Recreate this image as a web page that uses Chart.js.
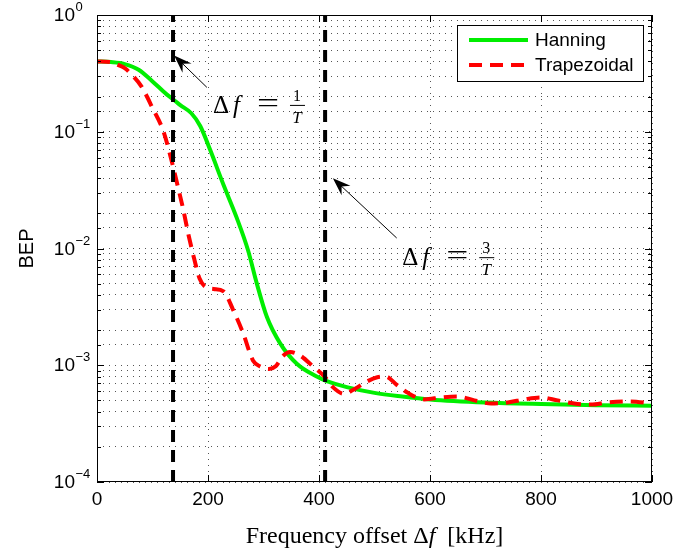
<!DOCTYPE html>
<html>
<head>
<meta charset="utf-8">
<script src="https://cdn.jsdelivr.net/npm/chart.js@4.4.1/dist/chart.umd.min.js"></script>
<style>
  html, body { margin: 0; padding: 0; background: #fff; }
</style>
</head>
<body>
<canvas id="chart" width="693" height="556"></canvas>
<script>
// frequency offset in kHz and bit error probability
const hanningFreq = [0, 25, 50, 75, 100, 125, 137, 150, 170, 186, 204, 227, 252, 272, 288, 306, 330, 360, 396, 414, 450, 500, 550, 600, 700, 800, 900, 1000]
const hanningBep = [0.40, 0.395, 0.38, 0.34, 0.27, 0.21, 0.19, 0.169, 0.144, 0.112, 0.0697, 0.036, 0.0182, 0.0097, 0.005, 0.0026, 0.00154, 0.00103, 0.0008, 0.00073, 0.00065, 0.00058, 0.00054, 0.00051, 0.00048, 0.000465, 0.000455, 0.00045]

const trapFreq = [0, 25, 40, 50, 65, 80, 100, 120, 135, 145, 155, 165, 175, 185, 195, 210, 228, 245, 263, 281, 295, 310, 322, 335, 348, 365, 390, 410, 425, 445, 465, 485, 505, 520, 540, 560, 590, 620, 650, 680, 710, 740, 770, 800, 830, 860, 890, 920, 960, 1000]
const trapBep = [0.40, 0.395, 0.37, 0.35, 0.30, 0.245, 0.16, 0.10, 0.055, 0.035, 0.022, 0.013, 0.0082, 0.0055, 0.0047, 0.0045, 0.0043, 0.003, 0.0019, 0.0011, 0.00097, 0.00093, 0.00098, 0.0012, 0.0013, 0.00122, 0.00097, 0.0008, 0.00065, 0.00057, 0.00063, 0.00072, 0.00079, 0.0008, 0.00068, 0.00058, 0.00051, 0.00053, 0.00054, 0.0005, 0.00047, 0.00048, 0.00051, 0.00053, 0.0005, 0.00047, 0.00046, 0.00048, 0.00049, 0.00047]

// vertical markers at 1/T and 3/T
const markerFreq = [137, 411]
const markerNum = ['1', '3']

const seriesNames = ['Hanning', 'Trapezoidal']
const xTicks = [0, 200, 400, 600, 800, 1000]
const yDecades = [1, 0.1, 0.01, 0.001, 0.0001]

function toPoints(xs, ys) {
	return xs.map((x, i) => ({ x: x, y: ys[i] }))
}

const vlines = markerFreq.map(f => ({
	data: [{ x: f, y: 1e-4 }, { x: f, y: 1 }],
	borderColor: '#000',
	borderWidth: 4,
	borderDash: [12, 8],
	pointRadius: 0,
	fill: false
}))

const sansFont = '"Liberation Sans", Arial, sans-serif'
const serifFont = '"Liberation Serif", "DejaVu Serif", serif'

//draw the "Δf = n/T" label, x is left of Δ, base is baseline
function deltaLabel(ctx, x, base, num) {
	ctx.fillStyle = '#000'
	ctx.textBaseline = 'alphabetic'
	ctx.textAlign = 'left'
	ctx.font = '25px ' + serifFont
	ctx.fillText('Δ', x, base)
	ctx.font = 'italic 25px ' + serifFont
	ctx.fillText('f', x + 20, base)
	ctx.font = '27px ' + serifFont
	ctx.save()
	ctx.translate(x + 44, base)
	ctx.scale(1.45, 1)
	ctx.fillText('=', 0, -1)
	ctx.restore()
	ctx.textAlign = 'center'
	ctx.font = '16px ' + serifFont
	ctx.fillText(num, x + 84, base - 12)
	ctx.font = 'italic 17px ' + serifFont
	ctx.fillText('T', x + 84, base + 10)
	ctx.strokeStyle = '#000'
	ctx.lineWidth = 1
	ctx.beginPath()
	ctx.moveTo(x + 77, base - 7.5)
	ctx.lineTo(x + 92, base - 7.5)
	ctx.stroke()
}

function arrow(ctx, x1, y1, x2, y2) {
	const ang = Math.atan2(y2 - y1, x2 - x1)
	const c = Math.cos(ang), s = Math.sin(ang)
	ctx.strokeStyle = '#000'
	ctx.fillStyle = '#000'
	ctx.lineWidth = 1
	ctx.beginPath()
	ctx.moveTo(x1, y1)
	ctx.lineTo(x2 - 10 * c, y2 - 10 * s)
	ctx.stroke()
	const len = 18, wid = 6.5
	const bx = x2 - len * c, by = y2 - len * s
	ctx.beginPath()
	ctx.moveTo(x2, y2)
	ctx.lineTo(bx - s * wid, by + c * wid)
	ctx.lineTo(x2 - 12 * c, y2 - 12 * s)
	ctx.lineTo(bx + s * wid, by - c * wid)
	ctx.closePath()
	ctx.fill()
}

const decorations = {
	id: 'decorations',
	afterDatasetsDraw(chart) {
		const ctx = chart.ctx
		const xs = chart.scales.x
		const ys = chart.scales.y
		const a = chart.chartArea
		ctx.save()

		//box round the plot
		ctx.strokeStyle = '#000'
		ctx.lineWidth = 1
		ctx.strokeRect(a.left + 0.5, a.top + 0.5, a.right - a.left - 1, a.bottom - a.top - 1)

		//inward tick marks like matlab
		ctx.beginPath()
		ys.ticks.forEach(t => {
			const p = Math.round(ys.getPixelForValue(t.value)) + 0.5
			const l = yDecades.includes(t.value) ? 7 : 4
			ctx.moveTo(a.left, p); ctx.lineTo(a.left + l, p)
			ctx.moveTo(a.right, p); ctx.lineTo(a.right - l, p)
		})
		xs.ticks.forEach(t => {
			const p = Math.round(xs.getPixelForValue(t.value)) + 0.5
			ctx.moveTo(p, a.bottom); ctx.lineTo(p, a.bottom - 7)
			ctx.moveTo(p, a.top); ctx.lineTo(p, a.top + 7)
		})
		ctx.stroke()

		//y tick labels 10^n with a real superscript
		ctx.fillStyle = '#000'
		yDecades.forEach(v => {
			const p = ys.getPixelForValue(v)
			const e = Math.round(Math.log10(v))
			ctx.textAlign = 'right'
			ctx.textBaseline = 'middle'
			ctx.font = '19px ' + sansFont
			ctx.fillText('10', 75, p + 1)
			ctx.textAlign = 'left'
			ctx.textBaseline = 'alphabetic'
			ctx.font = '13px ' + sansFont
			ctx.fillText(e === 0 ? '0' : '−' + Math.abs(e), 75.5, p - 4)
		})

		//arrows and their labels
		arrow(ctx, xs.getPixelForValue(198), ys.getPixelForValue(0.24), xs.getPixelForValue(139), ys.getPixelForValue(0.45))
		arrow(ctx, xs.getPixelForValue(540), ys.getPixelForValue(0.0123), xs.getPixelForValue(425), ys.getPixelForValue(0.04))
		deltaLabel(ctx, xs.getPixelForValue(209), ys.getPixelForValue(0.145), markerNum[0])
		deltaLabel(ctx, xs.getPixelForValue(550), ys.getPixelForValue(0.0072), markerNum[1])

		//legend box
		const lx = 457, ly = 25, lw = 186, lh = 56
		ctx.fillStyle = '#fff'
		ctx.fillRect(lx, ly, lw, lh)
		ctx.strokeStyle = '#000'
		ctx.lineWidth = 1
		ctx.strokeRect(lx + 0.5, ly + 0.5, lw, lh)
		const items = [chart.data.datasets[3], chart.data.datasets[2]]
		items.forEach((ds, i) => {
			const y = ly + 15 + i * 25
			ctx.strokeStyle = ds.borderColor
			ctx.lineWidth = 4
			ctx.setLineDash(ds.borderDash || [])
			ctx.beginPath()
			ctx.moveTo(lx + 12, y)
			ctx.lineTo(lx + 71, y)
			ctx.stroke()
			ctx.setLineDash([])
			ctx.fillStyle = '#000'
			ctx.font = '19px ' + sansFont
			ctx.textAlign = 'left'
			ctx.textBaseline = 'middle'
			ctx.fillText(ds.label, lx + 78, y + 1)
		})

		//axis titles
		ctx.fillStyle = '#000'
		ctx.textBaseline = 'alphabetic'
		ctx.textAlign = 'left'
		const parts = [['Frequency offset ', ''], ['Δ', ''], ['f', 'italic '], ['  [kHz]', '']]
		let total = 0
		parts.forEach(p => { ctx.font = p[1] + '24px ' + serifFont; total += ctx.measureText(p[0]).width })
		let tx = (a.left + a.right) / 2 - total / 2
		parts.forEach(p => {
			ctx.font = p[1] + '24px ' + serifFont
			ctx.fillText(p[0], tx, 543)
			tx += ctx.measureText(p[0]).width
		})
		ctx.save()
		ctx.translate(33, (a.top + a.bottom) / 2)
		ctx.rotate(-Math.PI / 2)
		ctx.textAlign = 'center'
		ctx.font = '20px ' + sansFont
		ctx.fillText('BEP', 0, 0)
		ctx.restore()

		ctx.restore()
	}
}

const graph = document.getElementById('chart')
const myChart = new Chart(graph, {
	type: 'line',
	data: {
		datasets: [
			vlines[0],
			vlines[1],
			{
				label: seriesNames[1],
				data: toPoints(trapFreq, trapBep),
				borderColor: '#ff0000',
				borderWidth: 4,
				borderDash: [13, 8],
				pointRadius: 0,
				cubicInterpolationMode: 'monotone',
				fill: false
			},
			{
				label: seriesNames[0],
				data: toPoints(hanningFreq, hanningBep),
				borderColor: '#00ee00',
				borderWidth: 4,
				pointRadius: 0,
				cubicInterpolationMode: 'monotone',
				fill: false
			}
		]
	},
	options: {
		responsive: false,
		animation: false,
		layout: { padding: { top: 15, right: 41, left: 0, bottom: 0 } },
		plugins: { legend: { display: false }, tooltip: { enabled: false } },
		scales: {
			x: {
				type: 'linear',
				min: 0,
				max: 1000,
				afterFit: s => { s.height = 74 },
				afterBuildTicks: s => { s.ticks = xTicks.map(v => ({ value: v })) },
				ticks: {
					color: '#000',
					padding: 6,
					font: { family: sansFont, size: 19 },
					callback: v => String(v)
				},
				grid: { color: '#555', lineWidth: 1, drawTicks: false },
				border: { display: false, dash: [1, 5] }
			},
			y: {
				type: 'logarithmic',
				min: 1e-4,
				max: 1,
				afterFit: s => { s.width = 97 },
				ticks: { display: false, autoSkip: false },
				grid: { color: '#555', lineWidth: 1, drawTicks: false },
				border: { display: false, dash: [1, 5] }
			}
		}
	},
	plugins: [decorations]
})
</script>
</body>
</html>
